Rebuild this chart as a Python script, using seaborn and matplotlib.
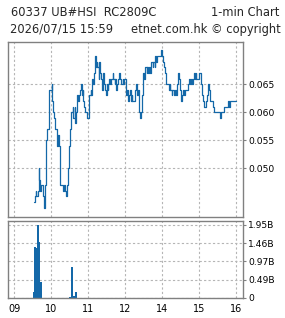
import numpy as np
import pandas as pd
import matplotlib
matplotlib.use("Agg")
import matplotlib.pyplot as plt
import seaborn as sns

# ---------------- data ----------------
price_times = [
    "09:32", "09:34", "09:35", "09:36", "09:38", "09:40", "09:41", "09:42", "09:44", "09:46",
    "09:48", "09:49", "09:50", "09:51", "09:52", "09:53", "09:56", "09:57", "09:58", "10:00",
    "10:01", "10:02", "10:03", "10:05", "10:06", "10:07", "10:09", "10:10", "10:11", "10:13",
    "10:14", "10:15", "10:17", "10:19", "10:20", "10:21", "10:23", "10:24", "10:25", "10:27",
    "10:28", "10:29", "10:30", "10:32", "10:33", "10:35", "10:36", "10:38", "10:39", "10:40",
    "10:42", "10:43", "10:45", "10:46", "10:47", "10:48", "10:50", "10:51", "10:52", "10:54",
    "10:55", "10:56", "10:58", "10:59", "11:01", "11:02", "11:04", "11:05", "11:06", "11:07",
    "11:08", "11:10", "11:11", "11:12", "11:13", "11:14", "11:15", "11:17", "11:18", "11:19",
    "11:21", "11:22", "11:24", "11:25", "11:26", "11:27", "11:29", "11:30", "11:32", "11:33",
    "11:34", "11:36", "11:37", "11:39", "11:40", "11:41", "11:43", "11:44", "11:46", "11:47",
    "11:49", "11:51", "11:52", "11:54", "11:56", "11:57", "11:58", "11:59",
    "13:01", "13:02", "13:04", "13:05", "13:06", "13:08", "13:09", "13:11", "13:12", "13:14",
    "13:15", "13:16", "13:18", "13:19", "13:21", "13:22", "13:23", "13:24", "13:26", "13:28",
    "13:29", "13:30", "13:31", "13:33", "13:35", "13:36", "13:37", "13:39", "13:41", "13:42",
    "13:43", "13:45", "13:46", "13:48", "13:49", "13:50", "13:52", "13:54", "13:55", "13:57",
    "13:58", "14:00", "14:02", "14:03", "14:05", "14:06", "14:08", "14:09", "14:11", "14:13",
    "14:14", "14:16", "14:17", "14:19", "14:20", "14:22", "14:23", "14:25", "14:27", "14:28",
    "14:29", "14:31", "14:33", "14:34", "14:36", "14:38", "14:39", "14:41", "14:42", "14:44",
    "14:46", "14:47", "14:49", "14:51", "14:52", "14:54", "14:55", "14:56", "14:58", "15:00",
    "15:01", "15:03", "15:04", "15:06", "15:07", "15:09", "15:11", "15:12", "15:14", "15:15",
    "15:17", "15:18", "15:19", "15:21", "15:23", "15:24", "15:25", "15:27", "15:29", "15:30",
    "15:32", "15:33", "15:35", "15:36", "15:38", "15:39", "15:41", "15:43", "15:44", "15:46",
    "15:48", "15:49", "15:51", "15:53", "15:56", "16:00",
]
prices = [
    0.044, 0.045, 0.046, 0.045, 0.046, 0.050, 0.048, 0.046, 0.047, 0.045,
    0.044, 0.043, 0.047, 0.050, 0.055, 0.057, 0.062, 0.064, 0.064, 0.064,
    0.065, 0.062, 0.060, 0.059, 0.058, 0.057, 0.055, 0.054, 0.056, 0.054,
    0.050, 0.047, 0.047, 0.047, 0.046, 0.047, 0.046, 0.045, 0.047, 0.049,
    0.050, 0.054, 0.057, 0.059, 0.060, 0.061, 0.059, 0.061, 0.058, 0.060,
    0.063, 0.062, 0.062, 0.063, 0.064, 0.065, 0.063, 0.064, 0.062, 0.061,
    0.060, 0.060, 0.059, 0.059, 0.060, 0.063, 0.064, 0.063, 0.065, 0.066,
    0.065, 0.067, 0.069, 0.070, 0.068, 0.069, 0.068, 0.066, 0.069, 0.067,
    0.066, 0.064, 0.066, 0.067, 0.065, 0.064, 0.063, 0.065, 0.064, 0.065,
    0.066, 0.065, 0.066, 0.066, 0.067, 0.066, 0.065, 0.066, 0.064, 0.065,
    0.066, 0.067, 0.066, 0.065, 0.066, 0.065, 0.065, 0.066,
    0.065, 0.063, 0.064, 0.062, 0.063, 0.064, 0.062, 0.063, 0.062, 0.062,
    0.062, 0.064, 0.065, 0.063, 0.064, 0.061, 0.060, 0.059, 0.060, 0.063,
    0.065, 0.067, 0.066, 0.068, 0.067, 0.068, 0.067, 0.068, 0.067, 0.068,
    0.069, 0.068, 0.069, 0.068, 0.070, 0.069, 0.070, 0.070, 0.070, 0.070,
    0.071, 0.070, 0.069, 0.068, 0.067, 0.065, 0.065, 0.065, 0.064, 0.065,
    0.064, 0.063, 0.064, 0.063, 0.063, 0.064, 0.063, 0.065, 0.067, 0.066,
    0.064, 0.062, 0.063, 0.064, 0.063, 0.064, 0.064, 0.064, 0.065, 0.066,
    0.065, 0.066, 0.065, 0.066, 0.067, 0.066, 0.067, 0.066, 0.066, 0.066,
    0.067, 0.066, 0.065, 0.063, 0.062, 0.061, 0.062, 0.062, 0.063, 0.065,
    0.064, 0.064, 0.062, 0.062, 0.061, 0.061, 0.060, 0.060, 0.060, 0.060,
    0.060, 0.060, 0.059, 0.060, 0.060, 0.060, 0.061, 0.061, 0.061, 0.061,
    0.062, 0.061, 0.062, 0.062, 0.062, 0.062,
]

vol_times = ["09:32", "09:34", "09:35", "09:36", "09:37", "09:39", "09:40", "09:42", "09:43",
             "10:31", "10:34", "10:35", "10:36", "10:37", "10:40"]
volumes_b = [0.16, 1.36, 1.34, 0.58, 0.55, 1.95, 1.50, 0.03, 0.43,
             0.02, 0.81, 0.05, 0.05, 0.05, 0.14]

hour_ticks = [9, 10, 11, 12, 13, 14, 15]
hour_labels = ["09", "10", "11", "12", "14", "15", "16"]
price_ticks = [0.050, 0.055, 0.060, 0.065]
price_labels = ["0.050", "0.055", "0.060", "0.065"]
vol_ticks = [0.0, 0.4875, 0.975, 1.4625, 1.95]
vol_labels = ["0", "0.49B", "0.97B", "1.46B", "1.95B"]

title_left = "60337 UB#HSI  RC2809C"
title_right = "1-min Chart"
sub_left = "2026/07/15 15:59"
sub_right = "etnet.com.hk \u00a9 copyright"


def to_pos(t):
    h, m = map(int, t.split(":"))
    v = h + m / 60.0
    if h >= 13:  # lunch break removed from axis
        v -= 1.0
    return v


price_df = pd.DataFrame({"pos": [to_pos(t) for t in price_times], "price": prices})
vol_df = pd.DataFrame({"pos": [to_pos(t) for t in vol_times], "vol": volumes_b})

# ---------------- style ----------------
sns.set_style("white")
plt.rcParams["font.family"] = ["DejaVu Sans"]

BLUE = "#1468a8"
FRAME = "#808080"
GRID = "#b5b5b5"

fig = plt.figure(figsize=(2.85, 3.18), dpi=100)
ax = fig.add_axes([8 / 285, (318 - 216.7) / 318, 234.7 / 285, 174.7 / 318])
axv = fig.add_axes([8 / 285, (318 - 297.7) / 318, 234.7 / 285, 76.7 / 318])

sns.lineplot(data=price_df, x="pos", y="price", ax=ax, color=BLUE,
             linewidth=0.9, drawstyle="steps-post", estimator=None)
sns.barplot(data=vol_df, x="pos", y="vol", ax=axv, native_scale=True,
            color=BLUE, width=2.6, errorbar=None, linewidth=0, saturation=1)

xlim = (8.83, 15.19)
for a in (ax, axv):
    a.set_xlim(*xlim)
    a.set_xlabel("")
    a.set_ylabel("")
    a.grid(True, linestyle=(0, (2, 2)), color=GRID, linewidth=0.8)
    a.set_axisbelow(True)
    for s in a.spines.values():
        s.set_visible(True)
        s.set_color(FRAME)
        s.set_linewidth(1.0)
    a.yaxis.tick_right()
    a.tick_params(axis="both", colors=FRAME, labelcolor="black", length=2.5,
                  width=0.8, labelsize=6.6, pad=1.5)
    a.set_xticks(hour_ticks)

ax.set_ylim(0.0414, 0.0725)
ax.set_yticks(price_ticks)
ax.set_yticklabels(price_labels)
ax.set_xticklabels([])
ax.tick_params(axis="x", length=0)

axv.set_ylim(0, 2.057)
axv.set_yticks(vol_ticks)
axv.set_yticklabels(vol_labels)
axv.set_xticklabels(hour_labels)
axv.tick_params(axis="x", labelsize=7, pad=2)

fig.text(11 / 285, 1 - 13 / 318, title_left, fontsize=8.3, va="center", ha="left")
fig.text(279 / 285, 1 - 13 / 318, title_right, fontsize=8.3, va="center", ha="right")
fig.text(10 / 285, 1 - 29 / 318, sub_left, fontsize=8.3, va="center", ha="left")
fig.text(281 / 285, 1 - 29 / 318, sub_right, fontsize=8.3, va="center", ha="right")

fig.savefig("out.png", dpi=100, facecolor="white")
